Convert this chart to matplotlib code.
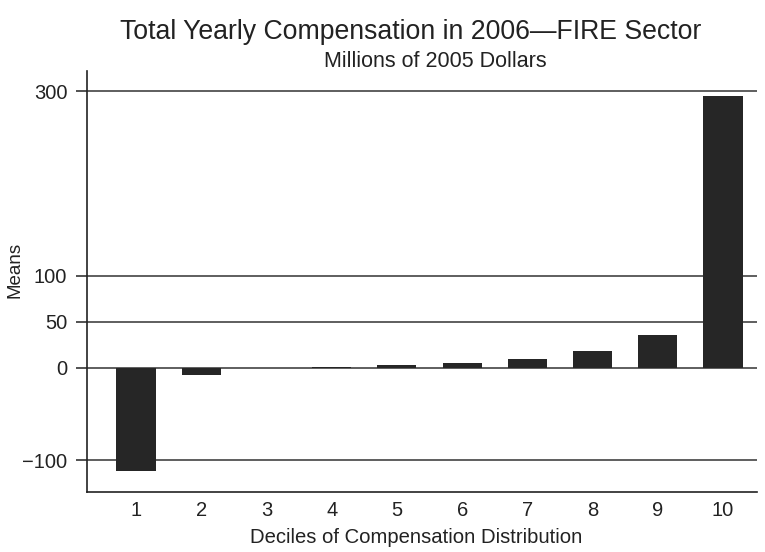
import matplotlib.pyplot as plt

plt.rcParams['font.family'] = ['Liberation Sans', 'DejaVu Sans']

# Mean total yearly compensation by decile, FIRE sector (millions of 2005 dollars)
deciles = [1, 2, 3, 4, 5, 6, 7, 8, 9, 10]
means = [-112, -8, -0.3, 1, 3, 5, 10, 18, 36, 295]
yticks = [-100, 0, 50, 100, 300]

fig = plt.figure(figsize=(7.65, 5.52), dpi=100)
ax = fig.add_axes([0.1133, 0.1092, 0.8762, 0.7622])

# horizontal reference lines at each y tick
for t in yticks:
    ax.axhline(t, color='#333333', linewidth=1.1, zorder=1)

ax.bar(deciles, means, width=0.6, color='#262626', zorder=2)

ax.set_xlim(0.244, 10.52)
ax.set_ylim(-134.3, 321.7)
ax.set_yticks(yticks)
ax.set_xticks(deciles)
ax.tick_params(axis='x', length=0, labelsize=14.5, pad=7, colors='#222222')
ax.tick_params(axis='y', length=8, width=1.1, labelsize=14.5, pad=6, colors='#222222')

for s in ['top', 'right']:
    ax.spines[s].set_visible(False)
for s in ['left', 'bottom']:
    ax.spines[s].set_linewidth(1.2)
    ax.spines[s].set_color('#222222')

# axis labels placed in figure coordinates
fig.text(0.019, 0.511, 'Means', rotation=90, ha='center', va='center',
         fontsize=13.5, color='#222222')
fig.text(0.544, 0.017, 'Deciles of Compensation Distribution', ha='center', va='baseline',
         fontsize=14.6, color='#222222')

fig.text(0.537, 0.93, 'Total Yearly Compensation in 2006\u2014FIRE Sector',
         ha='center', va='baseline', fontsize=19.2, color='#222222')
fig.text(0.569, 0.879, 'Millions of 2005 Dollars',
         ha='center', va='baseline', fontsize=15.5, color='#222222')

fig.savefig('out.png', dpi=100)
